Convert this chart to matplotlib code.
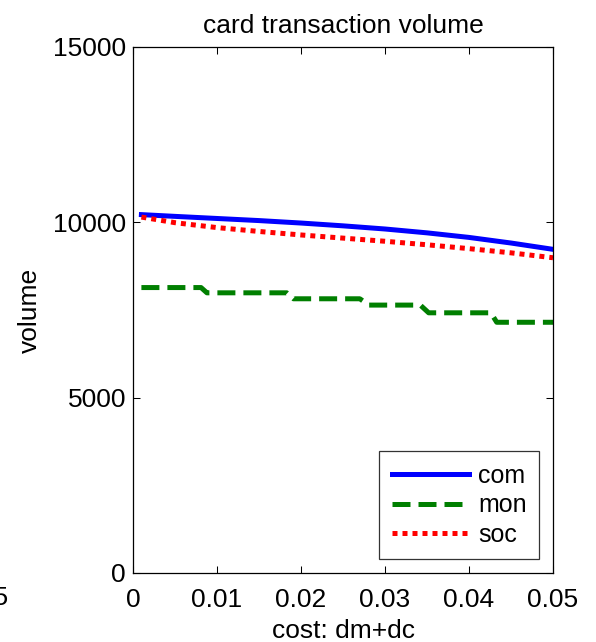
import matplotlib
matplotlib.use("Agg")
import matplotlib.pyplot as plt

plt.rcParams['font.family'] = ['Liberation Sans', 'DejaVu Sans']

# smooth series
cost_smooth = [0.001, 0.005, 0.01, 0.015, 0.02, 0.025, 0.03, 0.035, 0.04, 0.045, 0.05]
com = [10220, 10170, 10110, 10050, 9980, 9900, 9810, 9700, 9570, 9410, 9230]
soc = [10150, 9990, 9850, 9740, 9640, 9550, 9460, 9360, 9250, 9130, 8990]

# monetary series is step-like
cost_mon = [0.001, 0.0081, 0.0088, 0.0183, 0.0191, 0.0270, 0.0281,
            0.0342, 0.0352, 0.0426, 0.0433, 0.05]
mon = [8140, 8140, 7990, 7990, 7820, 7820, 7640, 7640, 7420, 7420, 7150, 7150]

fig = plt.figure(figsize=(5.96, 6.42), dpi=100)
ax = fig.add_axes([133 / 596, 69 / 642, 420 / 596, 526 / 642])

ax.plot(cost_smooth, com, color='#0000ff', lw=3.6, label='com')
ax.plot(cost_mon, mon, color='#007f00', lw=3.6, dashes=(3.6, 1.6), label='mon')
ax.plot(cost_smooth, soc, color='#ff0000', lw=3.6, dashes=(1, 1), label='soc')

ax.set_xlim(0, 0.05)
ax.set_ylim(0, 15000)
ax.set_xticks([0, 0.01, 0.02, 0.03, 0.04, 0.05])
ax.set_xticklabels(['0', '0.01', '0.02', '0.03', '0.04', '0.05'])
ax.set_yticks([0, 5000, 10000, 15000])
ax.set_yticklabels(['0', '5000', '10000', '15000'])
ax.tick_params(direction='in', length=5, width=0.75, top=True, right=True,
               labelsize=19, pad=5)
ax.tick_params(axis='x', pad=11)
for s in ax.spines.values():
    s.set_linewidth(0.9)

ax.set_title('card transaction volume', fontsize=19, pad=10)
ax.set_xlabel('cost: dm+dc', fontsize=19, labelpad=5)
ax.set_ylabel('volume', fontsize=19, labelpad=8)

leg = ax.legend(loc='lower right', fontsize=18, handlelength=3.1,
                labelspacing=0.22, borderaxespad=0.55, fancybox=False,
                handletextpad=0.35, borderpad=0.5)
leg.get_frame().set_edgecolor('black')
leg.get_frame().set_linewidth(0.9)

# tail of a tick label from the neighbouring panel
fig.text(8 / 596, 1 - 598 / 642, '0.05', fontsize=19, ha='right', va='center')

fig.savefig('out.png', dpi=100)
